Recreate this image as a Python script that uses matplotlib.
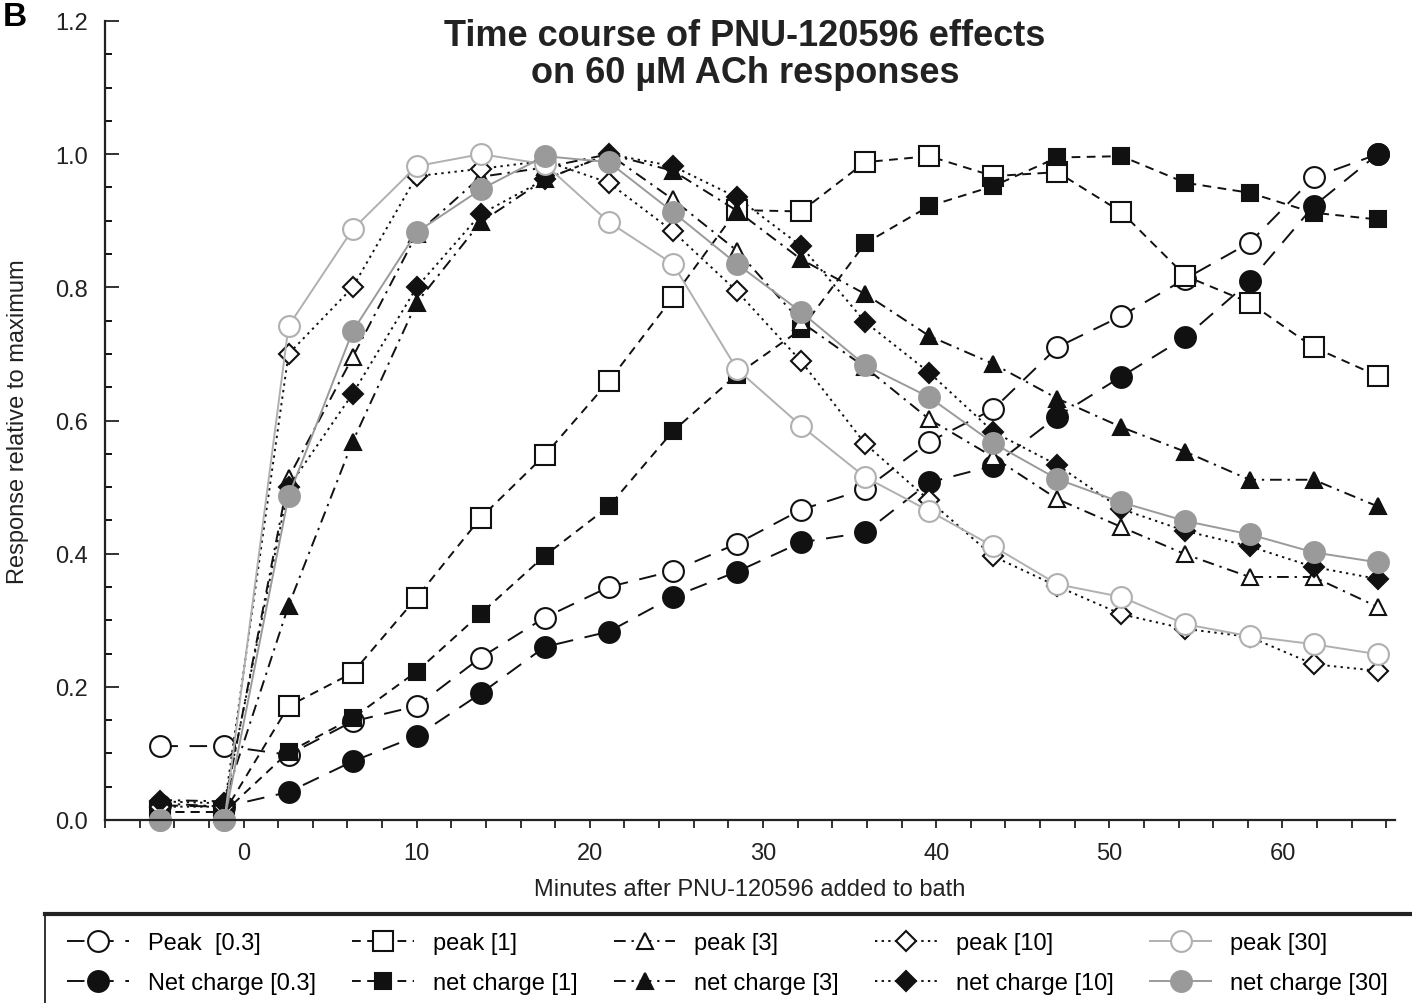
#!/usr/bin/env python3
import matplotlib
matplotlib.use('Agg')
import matplotlib.pyplot as plt
from matplotlib.patches import Rectangle
from matplotlib.lines import Line2D
from matplotlib.ticker import MultipleLocator, FormatStrFormatter

plt.rcParams['font.family'] = ['Liberation Sans', 'DejaVu Sans']

# minutes after PNU-120596 was added to the bath
minutes = [-4.8, -1.1, 2.6, 6.3, 10.0, 13.7, 17.4, 21.1, 24.8, 28.5,
           32.2, 35.9, 39.6, 43.3, 47.0, 50.7, 54.4, 58.1, 61.8, 65.5]

peak_03 = [0.111, 0.111, 0.098, 0.148, 0.171, 0.244, 0.304, 0.350, 0.374, 0.415,
           0.466, 0.497, 0.568, 0.617, 0.710, 0.757, 0.813, 0.867, 0.965, 1.000]
net_03 = [0.022, 0.020, 0.042, 0.088, 0.126, 0.190, 0.260, 0.283, 0.335, 0.373,
          0.417, 0.432, 0.507, 0.532, 0.606, 0.666, 0.725, 0.809, 0.922, 1.000]
peak_1 = [0.012, 0.012, 0.171, 0.221, 0.334, 0.454, 0.548, 0.659, 0.785, 0.916,
          0.914, 0.988, 0.997, 0.967, 0.973, 0.913, 0.817, 0.777, 0.710, 0.667]
net_1 = [0.012, 0.012, 0.102, 0.153, 0.223, 0.310, 0.397, 0.471, 0.584, 0.669,
         0.737, 0.866, 0.922, 0.952, 0.995, 0.997, 0.957, 0.942, 0.912, 0.902]
peak_3 = [0.025, 0.020, 0.514, 0.695, 0.880, 0.966, 0.980, 1.000, 0.932, 0.855,
          0.748, 0.680, 0.602, 0.545, 0.482, 0.440, 0.399, 0.365, 0.365, 0.320]
net_3 = [0.030, 0.028, 0.322, 0.568, 0.777, 0.898, 0.962, 1.000, 0.975, 0.915,
         0.842, 0.790, 0.727, 0.685, 0.633, 0.590, 0.553, 0.511, 0.511, 0.471]
peak_10 = [0.020, 0.020, 0.700, 0.800, 0.967, 0.978, 0.990, 0.957, 0.884, 0.794,
           0.689, 0.565, 0.480, 0.396, 0.351, 0.309, 0.287, 0.275, 0.234, 0.224]
net_10 = [0.028, 0.025, 0.500, 0.640, 0.800, 0.910, 0.962, 1.000, 0.982, 0.935,
          0.862, 0.748, 0.672, 0.583, 0.533, 0.467, 0.434, 0.411, 0.380, 0.362]
peak_30 = [0.000, 0.000, 0.742, 0.887, 0.982, 1.000, 0.985, 0.898, 0.835, 0.677,
           0.592, 0.515, 0.464, 0.411, 0.354, 0.335, 0.294, 0.276, 0.264, 0.249]
net_30 = [0.000, 0.000, 0.486, 0.734, 0.883, 0.947, 0.997, 0.988, 0.913, 0.835,
          0.763, 0.683, 0.635, 0.566, 0.512, 0.477, 0.449, 0.429, 0.402, 0.387]

labels = ['Peak  [0.3]', 'Net charge [0.3]', 'peak [1]', 'net charge [1]',
          'peak [3]', 'net charge [3]', 'peak [10]', 'net charge [10]',
          'peak [30]', 'net charge [30]']
series = [peak_03, net_03, peak_1, net_1, peak_3, net_3, peak_10, net_10, peak_30, net_30]

K = '#111111'
GO = '#b0b0b0'
GF = '#9a9a9a'
styles = [
    dict(marker='o', ms=15, mfc='white', mec=K, color=K, dashes=(9, 6)),
    dict(marker='o', ms=15, mfc=K, mec=K, color=K, dashes=(9, 6)),
    dict(marker='s', ms=14, mfc='white', mec=K, color=K, dashes=(4.5, 3.3)),
    dict(marker='s', ms=12, mfc=K, mec=K, color=K, dashes=(4.5, 3.3)),
    dict(marker='^', ms=12, mfc='white', mec=K, color=K, dashes=(6, 3, 1.2, 3)),
    dict(marker='^', ms=12, mfc=K, mec=K, color=K, dashes=(6, 3, 1.2, 3)),
    dict(marker='D', ms=10, mfc='white', mec=K, color=K, dashes=(1.2, 2.2)),
    dict(marker='D', ms=10, mfc=K, mec=K, color=K, dashes=(1.2, 2.2)),
    dict(marker='o', ms=15, mfc='white', mec=GO, color=GO, linestyle='-'),
    dict(marker='o', ms=15, mfc=GF, mec=GF, color=GF, linestyle='-'),
]

fig = plt.figure(figsize=(14.12, 10.04), dpi=100)
ax = fig.add_axes([105 / 1412, 183 / 1004, 1290 / 1412, 799 / 1004])

handles = []
for y, lab, st in zip(series, labels, styles):
    h, = ax.plot(minutes, y, lw=1.4, mew=1.5, label=lab, clip_on=False, **st)
    handles.append(h)

ax.set_xlim(-8, 66.5)
ax.set_ylim(0, 1.2)
ax.xaxis.set_major_locator(MultipleLocator(10))
ax.xaxis.set_minor_locator(MultipleLocator(2))
ax.yaxis.set_major_locator(MultipleLocator(0.2))
ax.yaxis.set_minor_locator(MultipleLocator(0.05))
ax.yaxis.set_major_formatter(FormatStrFormatter('%.1f'))
ax.tick_params(axis='x', which='both', direction='out', length=6, width=1.3,
               labelsize=17, pad=10, colors='#222222')
ax.tick_params(axis='y', which='major', direction='in', length=10, width=1.3,
               labelsize=17, pad=12, colors='#222222')
ax.tick_params(axis='y', which='minor', direction='in', length=5, width=1.3)
for s in ['top', 'right']:
    ax.spines[s].set_visible(False)
for s in ['left', 'bottom']:
    ax.spines[s].set_linewidth(1.6)
    ax.spines[s].set_color('#222222')

ax.set_xlabel('Minutes after PNU-120596 added to bath', fontsize=17, labelpad=10, color='#222222')
ax.set_ylabel('Response relative to maximum', fontsize=17, labelpad=19, color='#222222')

fig.text(745 / 1412, 1 - 55 / 1004, 'Time course of PNU-120596 effects\non 60 \u00b5M ACh responses',
         ha='center', va='center', fontsize=26, fontweight='bold', linespacing=1.1, color='#222222')
fig.text(0.002, 0.998, 'B', fontsize=24, fontweight='bold', ha='left', va='top')

# legend box running off the bottom/right of the figure
fig.patches.append(Rectangle((45 / 1412, -0.05), 1.1, (1004 - 915) / 1004 + 0.05,
                             transform=fig.transFigure, fill=False, lw=1.3, ec='#222222'))
fig.lines.append(Line2D([45 / 1412, 1.0], [1 - 915 / 1004] * 2, transform=fig.transFigure,
                        lw=3, color='#222222'))
fig.legend(handles, labels, ncol=5, loc='upper left',
           bbox_to_anchor=(58 / 1412, 1 - 924 / 1004), frameon=False, fontsize=17,
           handlelength=2.6, columnspacing=1.55, handletextpad=0.8, labelspacing=0.75,
           borderaxespad=0, numpoints=1)

fig.savefig('out.png', dpi=100)
